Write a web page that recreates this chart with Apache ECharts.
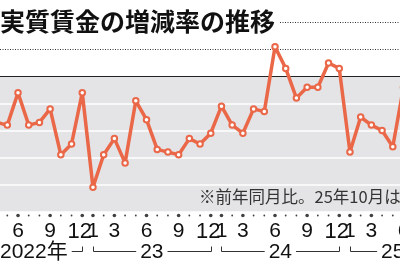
<!DOCTYPE html>
<html>
<head>
<meta charset="utf-8">
<script src="https://cdn.jsdelivr.net/npm/echarts@6/dist/echarts.min.js"></script>
<style>
html,body{margin:0;padding:0;background:#fff;}
#chart{width:400px;height:268px;}
</style>
</head>
<body>
<div id="chart"></div>
<script>
// ---- data ----
const categories = [
  '2022/4','2022/5','2022/6','2022/7','2022/8','2022/9','2022/10','2022/11','2022/12',
  '2023/1','2023/2','2023/3','2023/4','2023/5','2023/6','2023/7','2023/8','2023/9','2023/10','2023/11','2023/12',
  '2024/1','2024/2','2024/3','2024/4','2024/5','2024/6','2024/7','2024/8','2024/9','2024/10','2024/11','2024/12',
  '2025/1','2025/2','2025/3','2025/4','2025/5','2025/6'
];
const wageGrowth = [
  -1.7, -1.8, -0.6, -1.8, -1.7, -1.2, -2.9, -2.5, -0.6,
  -4.1, -2.9, -2.3, -3.2, -0.9, -1.6, -2.7, -2.8, -2.9, -2.3, -2.5, -2.1,
  -1.1, -1.8, -2.1, -1.2, -1.3, 1.1, 0.3, -0.8, -0.4, -0.4, 0.5, 0.3,
  -2.8, -1.5, -1.8, -2.0, -2.6, -0.4
];
const labeledMonths = [1, 3, 6, 9, 12];
const yearLabels = ['2022年', '23', '24', '25'];
const yearFirstIdx = [-3, 9, 21, 33];   // category index of January of each year
const yearLastIdx = [8, 20, 32, 41];    // category index of last month of bracket
const yMin = -5, yMax = 2, yStep = 1;
const negativeGridValues = [-1, -2, -3, -4];
const positiveGridValues = [1, 2];
const titleText = '実質賃金の増減率の推移';
const noteText = '※前年同月比。25年10月は速報値';

// ---- styles ----
const ORANGE = '#EA6748';
const GRAY = '#e4e4e6';
const TITLE_FONT = 'bold 25px "Noto Sans CJK JP", sans-serif';
const YEAR_FONT = '21px "Liberation Sans Narrow", "Liberation Sans", "Noto Sans CJK JP", sans-serif';
const DOT_Y = yMin - 4 / 27;

const measureCtx = document.createElement('canvas').getContext('2d');
function textWidth(t, font) { measureCtx.font = font; return measureCtx.measureText(t).width; }
function monthOf(c) { return parseInt(c.split('/')[1], 10); }

function renderYear(params, api) {
  const i = params.dataIndex;
  const a = api.coord([0, yMin]);
  const b = api.coord([1, yMin]);
  const step = b[0] - a[0];
  const xs = a[0] + yearFirstIdx[i] * step;
  const xe = a[0] + yearLastIdx[i] * step;
  const cx = (xs + xe) / 2;
  const label = yearLabels[i];
  const num = label.replace('年', '');
  const nw = textWidth(num, YEAR_FONT);
  const fw = textWidth(label, YEAR_FONT);
  const tx = cx - nw / 2;
  const yl = Math.round(a[1]) + 39.5;
  const yt = yl - 5;
  return {
    type: 'group',
    children: [
      { type: 'polyline', shape: { points: [[Math.round(xs) + 0.5, yt], [Math.round(xs) + 0.5, yl], [tx - 4, yl]] },
        style: { stroke: '#333', lineWidth: 1, fill: null } },
      { type: 'polyline', shape: { points: [[tx + fw + 4, yl], [Math.round(xe) + 0.5, yl], [Math.round(xe) + 0.5, yt]] },
        style: { stroke: '#333', lineWidth: 1, fill: null } },
      { type: 'text', style: { text: label, x: tx, y: yl + 1, font: YEAR_FONT, fill: '#111', align: 'left', verticalAlign: 'middle' } }
    ]
  };
}

// dotted gridlines above zero; the top one starts after the title
function renderPosGrid(params, api) {
  const v = positiveGridValues[params.dataIndex];
  const y = Math.round(api.coord([0, v])[1]) - 0.5;
  let x0 = 0;
  if (v >= yMax) x0 = textWidth(titleText, TITLE_FONT) + 5;
  return {
    type: 'line',
    z2: 100,
    shape: { x1: x0, y1: y, x2: 400, y2: y },
    style: { stroke: '#333', lineWidth: 1, lineDash: [1, 1.5] }
  };
}

const chart = echarts.init(document.getElementById('chart'), null, { renderer: 'canvas' });
chart.setOption({
  animation: false,
  backgroundColor: '#fff',
  title: {
    text: titleText,
    left: 0,
    top: 8,
    padding: 0,
    z: 10,
    textStyle: { fontSize: 25, fontWeight: 'bold', color: '#111', fontFamily: '"Noto Sans CJK JP", sans-serif', lineHeight: 26 }
  },
  graphic: [{
    type: 'text', left: 199, top: 188, z: 10,
    style: { text: noteText, font: '16.5px "Noto Sans CJK JP", sans-serif', fill: '#333' }
  }],
  grid: { left: -3.4, right: -3.5, top: 22.5, bottom: 56.5, containLabel: false, outerBoundsMode: 'none' },
  xAxis: {
    type: 'category',
    data: categories,
    boundaryGap: false,
    axisLine: { show: false },
    axisTick: { show: false },
    splitLine: { show: false },
    axisLabel: {
      interval: 0,
      margin: 9.5,
      fontSize: 21,
      lineHeight: 21,
      fontFamily: '"Liberation Sans", sans-serif',
      color: '#111',
      hideOverlap: false,
      formatter: function (v) {
        const m = monthOf(v);
        if (labeledMonths.indexOf(m) < 0) return '';
        if (m === 12) return '{n|12}';
        return String(m);
      },
      rich: {
        n: { fontSize: 22, lineHeight: 21, fontFamily: '"Liberation Sans Narrow", "Liberation Sans", sans-serif', color: '#111', padding: [0, 5, 0, 0] }
      }
    }
  },
  yAxis: {
    type: 'value',
    min: yMin, max: yMax, interval: yStep,
    axisLabel: { show: false },
    axisLine: { show: false },
    axisTick: { show: false },
    splitLine: { show: false }
  },
  series: [
    {
      name: 'band',
      type: 'line',
      data: categories.map(() => 0),
      symbol: 'none',
      silent: true,
      z: 0,
      lineStyle: { width: 0, opacity: 0 },
      areaStyle: { origin: 'start', color: GRAY, opacity: 1 }
    },
    {
      name: 'ref',
      type: 'line',
      data: wageGrowth,
      symbol: 'none',
      silent: true,
      z: 1,
      lineStyle: { opacity: 0 },
      markLine: {
        silent: true,
        symbol: 'none',
        label: { show: false },
        data: negativeGridValues.map(v => ({ yAxis: v, lineStyle: { color: '#fff', width: 1.5, type: 'solid' } }))
          .concat([{ yAxis: 0, lineStyle: { color: '#222', width: 1.2, type: 'solid' } }])
      }
    },
    {
      name: 'posGrid',
      type: 'custom',
      clip: false,
      silent: true,
      z: 2,
      data: positiveGridValues.map((v, i) => [i, v]),
      renderItem: renderPosGrid
    },
    {
      name: '実質賃金',
      type: 'line',
      data: wageGrowth,
      z: 8,
      silent: true,
      symbol: 'circle',
      symbolSize: 5.5,
      showSymbol: true,
      lineStyle: { color: ORANGE, width: 3.5 },
      itemStyle: { color: '#fff', borderColor: ORANGE, borderWidth: 2 }
    },
    {
      name: 'ticks',
      type: 'scatter',
      clip: false,
      silent: true,
      z: 3,
      data: categories.map((c, i) => [i, DOT_Y]),
      symbol: 'circle',
      symbolSize: function (val, params) {
        return labeledMonths.indexOf(monthOf(categories[params.dataIndex])) >= 0 ? 3.6 : 1.8;
      },
      itemStyle: { color: '#111' }
    },
    {
      name: 'years',
      type: 'custom',
      clip: false,
      silent: true,
      z: 3,
      data: yearLabels.map((l, i) => [i, yMin]),
      renderItem: renderYear
    }
  ]
});
</script>
</body>
</html>
